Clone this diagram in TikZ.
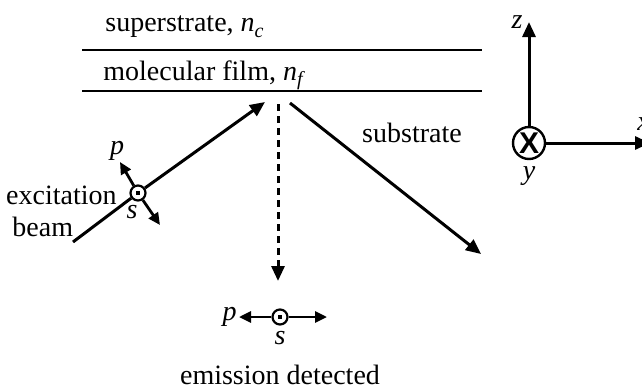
\documentclass[tikz,border=0pt]{standalone}
\usepackage{fontspec}
\setmainfont{Liberation Serif}
\newfontfamily\crossfont{Liberation Sans}
\usepackage{tikz}
\usetikzlibrary{positioning,arrows.meta,calc}
\newcommand{\nidx}[1]{\textit{n}\raisebox{-2.5pt}{\fontsize{10}{10}\selectfont\textit{#1}}}

\begin{document}
\begin{tikzpicture}[
  x=0.5pt,y=-0.5pt,
  font=\fontsize{14}{16}\selectfont,
  layer/.style={line width=1.1pt},
  arrow/.style={-{Triangle[length=7.5pt,width=6.5pt]},line width=1.5pt},
  polarrow/.style={-{Triangle[length=6pt,width=5.5pt]},line width=1.4pt},
  polcirc/.style={circle,draw,line width=1.1pt,fill=white,minimum size=7.5pt,inner sep=0pt},
  poldot/.style={fill=black},
  axiscirc/.style={circle,draw,line width=1.2pt,fill=white,minimum size=16pt,inner sep=0pt,
    font=\crossfont\bfseries\fontsize{15}{15}\selectfont},
  lbl/.style={inner sep=0pt,font=\itshape\fontsize{14}{16}\selectfont}
]
\useasboundingbox (0,0) rectangle (642,391);
\coordinate (topL) at (82,50);
\coordinate (topR) at (482,50);
\coordinate (botL) at (82,91);
\coordinate (botR) at (482,91);
\draw[layer] (topL) -- (topR);
\draw[layer] (botL) -- (botR);
\node[anchor=base west,inner sep=0pt] (super) at (105,32) {superstrate, \nidx{c}};
\node[anchor=base west,inner sep=0pt] (film) at (103,80) {molecular film, \nidx{f}};

\coordinate (beamstart) at (73,242);
\coordinate (hit) at (265,102);
\node[polcirc] (inpol) at (138,193) {};
\fill[poldot] ($(inpol.center)+(-1.1pt,-1.1pt)$) rectangle ++(2.2pt,2.2pt);
\draw[arrow] (beamstart) -- (inpol) -- (hit);
\coordinate (inp) at (120,162);
\coordinate (ins) at (160,225);
\draw[polarrow] (inpol) -- (inp);
\draw[polarrow] (inpol) -- (ins);
\node[lbl] (inplbl) at (117,151) {p};
\node[lbl] (inslbl) at (132,212) {s};
\node[anchor=east,inner sep=0pt] (exc) at (117,195) {excitation};
\node[anchor=west,inner sep=0pt] (beam) at (12,227) {beam};

\coordinate (emtop) at (278,104);
\coordinate (emtip) at (278,281);
\draw[arrow,dash pattern=on 3.6pt off 2.4pt] (emtop) -- (emtip);

\coordinate (subtop) at (290,103);
\coordinate (subtip) at (481,254);
\draw[arrow] (subtop) -- (subtip);
\node[inner sep=0pt] (sublbl) at (412,133) {substrate};

\node[polcirc] (outpol) at (280,317) {};
\fill[poldot] ($(outpol.center)+(-1.1pt,-1.1pt)$) rectangle ++(2.2pt,2.2pt);
\coordinate (outL) at (239,317);
\coordinate (outR) at (327,317);
\draw[polarrow] (outpol) -- (outL);
\draw[polarrow] (outpol) -- (outR);
\node[lbl,left=1pt of outL] (outplbl) {p};
\node[lbl] (outslbl) at (280,338) {s};
\node[inner sep=0pt] (emis) at (280,375) {emission detected};

\node[axiscirc] (orig) at (529,143) {X};
\coordinate (zend) at (529,22);
\coordinate (xend) at (650,143);
\draw[arrow] (orig) -- (zend);
\draw[arrow] (orig) -- (xend);
\node[lbl] (zlbl) at (517,22) {z};
\node[lbl,anchor=base west] (xlbl) at (637,130) {x};
\node[lbl,below=3pt of orig] (ylbl) {y};
\end{tikzpicture}
\end{document}
